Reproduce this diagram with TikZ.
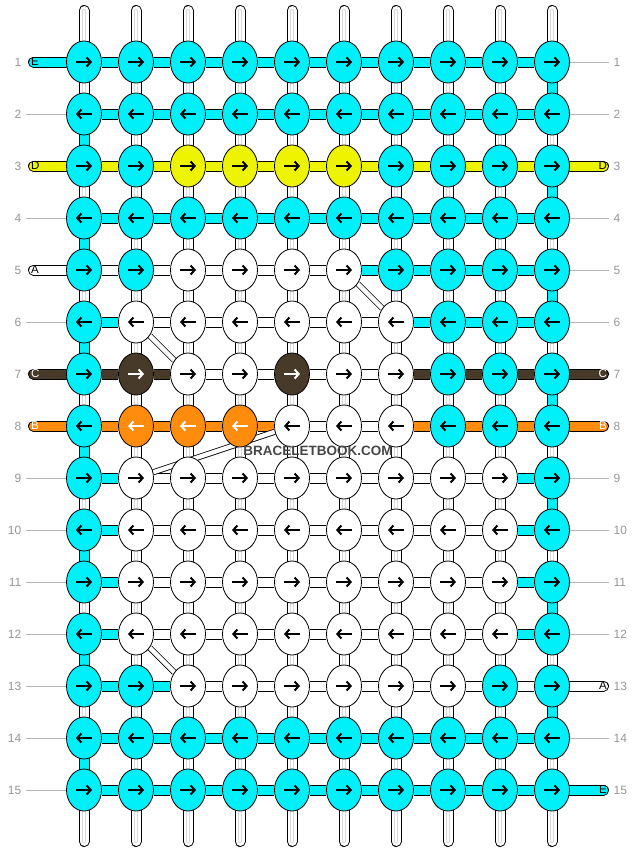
\documentclass[tikz,border=0pt]{standalone}
\usepackage{fontspec}
\setmainfont{Liberation Sans}
\usepackage{tikz}
\usetikzlibrary{shapes.geometric,arrows.meta,backgrounds}
\definecolor{th-c}{RGB}{0,240,250}
\definecolor{th-y}{RGB}{238,244,0}
\definecolor{th-w}{RGB}{255,255,255}
\definecolor{th-b}{RGB}{72,58,40}
\definecolor{th-o}{RGB}{255,140,12}
\colorlet{ink-c}{black}
\colorlet{ink-y}{black}
\colorlet{ink-w}{black}
\colorlet{ink-b}{white}
\colorlet{ink-o}{white}
\definecolor{rowgray}{RGB}{150,150,150}
\tikzstyle{bracelet}=[
  x=1pt,y=-1pt,line join=round
]
\tikzstyle{knot}=[
  draw,ellipse,inner sep=0pt,minimum width=35pt,minimum height=42pt,line width=0.8pt
]
\tikzstyle{ptr}=[
  line width=2pt,-{Straight Barb[length=4pt,width=9pt]}
]
\tikzstyle{string}=[
  line width=11pt,draw=black,line cap=round,
  postaction={draw=white,line width=9pt},
  postaction={draw=gray!30,line width=3.4pt},
  postaction={draw=white,line width=1.6pt}
]
\tikzstyle{diag}=[
  line width=6pt,draw=black,postaction={draw=white,line width=4.4pt}
]
\tikzstyle{rowline}=[
  draw=rowgray!70,line width=0.6pt
]
\tikzstyle{rownum}=[
  text=rowgray,font=\fontsize{12}{12}\selectfont,inner ysep=0pt,inner xsep=4.5pt
]
\tikzstyle{tag}=[
  font=\fontsize{11.5}{11.5}\selectfont,inner sep=0pt
]
\tikzstyle{watermark}=[
  text={rgb,255:red,70;green,70;blue,70},font=\fontsize{13.5}{14}\selectfont\bfseries,inner sep=0pt
]
\tikzset{
  link/.style={line width=11pt,draw=black,postaction={draw=#1,line width=9pt}}
}

\begin{document}
\begin{tikzpicture}[bracelet]
  \useasboundingbox (0,0) rectangle (636,852);
  % knots, row by row (1 = right, -1 = left)
  \foreach \r/\s/\row in {
    1/1/{c,c,c,c,c,c,c,c,c,c},
    2/-1/{c,c,c,c,c,c,c,c,c,c},
    3/1/{c,c,y,y,y,y,c,c,c,c},
    4/-1/{c,c,c,c,c,c,c,c,c,c},
    5/1/{c,c,w,w,w,w,c,c,c,c},
    6/-1/{c,w,w,w,w,w,w,c,c,c},
    7/1/{c,b,w,w,b,w,w,c,c,c},
    8/-1/{c,o,o,o,w,w,w,c,c,c},
    9/1/{c,w,w,w,w,w,w,w,w,c},
    10/-1/{c,w,w,w,w,w,w,w,w,c},
    11/1/{c,w,w,w,w,w,w,w,w,c},
    12/-1/{c,w,w,w,w,w,w,w,w,c},
    13/1/{c,c,w,w,w,w,w,w,c,c},
    14/-1/{c,c,c,c,c,c,c,c,c,c},
    15/1/{c,c,c,c,c,c,c,c,c,c}} {
    \foreach \k [count=\c from 0] in \row {
      \node[knot,fill=th-\k] (k-\r-\c) at ({84+52*\c},{10+52*\r}) {};
      \draw[ptr,ink-\k] ([xshift={-8pt*\s}]k-\r-\c.center) -- ([xshift={8pt*\s}]k-\r-\c.center);
    }
    \node[rownum,anchor=east] (nl-\r) at (26,{10+52*\r}) {\r};
    \node[rownum,anchor=west] (nr-\r) at (609,{10+52*\r}) {\r};
  }
  % thread ends
  \foreach \r/\l/\t in {1/c/E,3/y/D,5/w/A,7/b/C,8/o/B} {
    \coordinate (in-\r) at (33.5,{10+52*\r});
    \node[tag,text=ink-\l,anchor=west] (tl-\r) at (31,{10+52*\r}) {\t};
  }
  \foreach \r/\l/\t in {3/y/D,7/b/C,8/o/B,13/w/A,15/c/E} {
    \coordinate (out-\r) at (603.5,{10+52*\r});
    \node[tag,text=ink-\l,anchor=east] (tr-\r) at (607,{10+52*\r}) {\t};
  }
  \node[watermark] (site) at (318,451) {BRACELETBOOK.COM};

  \begin{scope}[on background layer]
    \foreach \c in {0,...,9} {
      \coordinate (top-\c) at ({84+52*\c},10.5);
      \coordinate (bot-\c) at ({84+52*\c},841.5);
      \draw[string] (top-\c) -- (bot-\c);
    }
    \foreach \r/\row in {
      1/{c,c,c,c,c,c,c,c,c},
      2/{c,c,c,c,c,c,c,c,c},
      3/{y,y,y,y,y,y,y,y,y},
      4/{c,c,c,c,c,c,c,c,c},
      5/{w,w,w,w,w,c,c,c,c},
      6/{c,w,w,w,w,w,c,c,c},
      7/{b,b,w,w,w,w,b,b,b},
      8/{o,o,o,o,w,w,o,o,o},
      9/{c,w,w,w,w,w,w,w,c},
      10/{c,w,w,w,w,w,w,w,c},
      11/{c,w,w,w,w,w,w,w,c},
      12/{c,w,w,w,w,w,w,w,c},
      13/{c,c,w,w,w,w,w,w,w},
      14/{c,c,c,c,c,c,c,c,c},
      15/{c,c,c,c,c,c,c,c,c}} {
      \foreach \l [count=\c from 0] in \row {
        \pgfmathtruncatemacro\n{\c+1}
        \draw[link=th-\l] (k-\r-\c) -- (k-\r-\n);
      }
    }
    % edge turns
    \foreach \r in {2,4,...,14} {
      \pgfmathtruncatemacro\n{\r+1}
      \draw[link=th-c] (k-\r-0) -- (k-\n-0);
    }
    \foreach \r in {1,3,...,13} {
      \pgfmathtruncatemacro\n{\r+1}
      \draw[link=th-c] (k-\r-9) -- (k-\n-9);
    }
    \foreach \r/\l in {1/c,3/y,5/w,7/b,8/o}
      \draw[link=th-\l,line cap=round] (in-\r) -- (k-\r-0);
    \foreach \r/\l in {3/y,7/b,8/o,13/w,15/c}
      \draw[link=th-\l,line cap=round] (k-\r-9) -- (out-\r);
    \foreach \r in {2,4,6,9,10,11,12,13,14,15}
      \draw[rowline] (nl-\r) -- (k-\r-0);
    \foreach \r in {1,2,4,5,6,9,10,11,12,14}
      \draw[rowline] (k-\r-9) -- (nr-\r);
    % white thread moving down
    \foreach \a/\b in {5-5/6-6,6-1/7-2,8-4/9-1,12-1/13-2}
      \draw[diag] (k-\a) -- (k-\b);
  \end{scope}
\end{tikzpicture}
\end{document}
